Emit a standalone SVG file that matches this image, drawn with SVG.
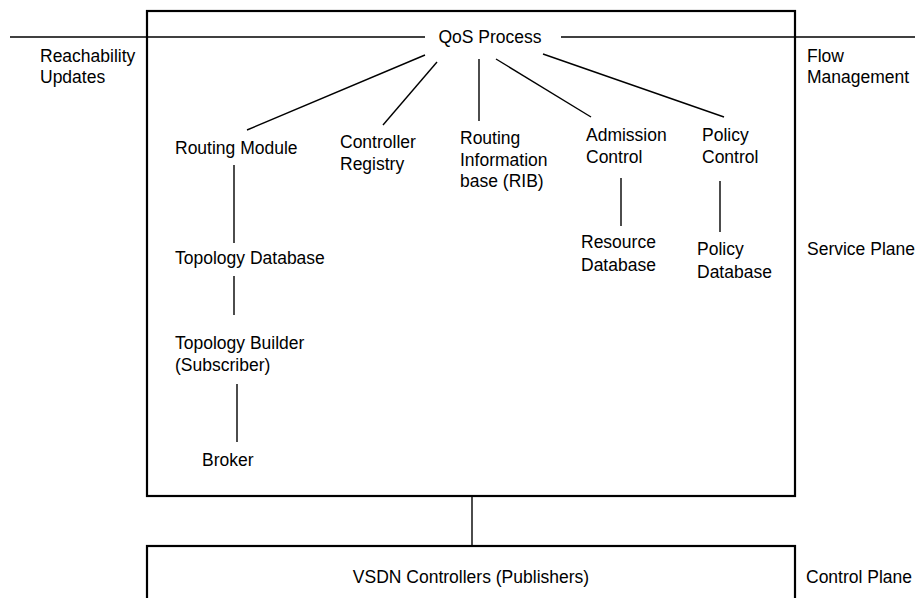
<svg xmlns="http://www.w3.org/2000/svg" width="915" height="598" viewBox="0 0 915 598">
<style>
text{font-family:"Liberation Sans",Arial,sans-serif;font-size:17.5px;fill:#000}
.box{fill:none;stroke:#000;stroke-width:2.2}
.c{stroke:#000;stroke-width:1.4;fill:none}
.m{text-anchor:middle}
</style>
<rect width="915" height="598" fill="#fff"/>
<g id="service-plane"><rect class="box" x="147" y="11" width="648" height="485"/></g>
<g id="control-plane-box"><rect class="box" x="147" y="546" width="648" height="80"/>
<text class="m" x="471" y="583">VSDN Controllers (Publishers)</text></g>
<g id="connectors">
<line class="c" x1="10" y1="37" x2="425" y2="37"/>
<line class="c" x1="561" y1="37" x2="915" y2="37"/>
<line class="c" x1="425" y1="55" x2="247" y2="130"/>
<line class="c" x1="437" y1="62" x2="383" y2="125"/>
<line class="c" x1="479" y1="59" x2="479" y2="121"/>
<line class="c" x1="496" y1="59" x2="591" y2="117"/>
<line class="c" x1="543" y1="54" x2="724" y2="117"/>
<line class="c" x1="234" y1="165" x2="234" y2="243"/>
<line class="c" x1="234" y1="276" x2="234" y2="315"/>
<line class="c" x1="237" y1="384" x2="237" y2="442"/>
<line class="c" x1="621" y1="178" x2="621" y2="226"/>
<line class="c" x1="720" y1="181" x2="720" y2="232"/>
<line class="c" x1="472" y1="496" x2="472" y2="546"/>
</g>
<g id="qos"><text class="m" x="490" y="43">QoS Process</text></g>
<g id="reachability"><text x="40" y="62">Reachability</text><text x="40" y="83">Updates</text></g>
<g id="flow"><text x="807" y="62">Flow</text><text x="807" y="83">Management</text></g>
<g id="routing-module"><text x="175" y="154">Routing Module</text></g>
<g id="controller-registry"><text x="340" y="148">Controller</text><text x="340" y="170">Registry</text></g>
<g id="rib"><text x="460" y="144">Routing</text><text x="460" y="166">Information</text><text x="460" y="187">base (RIB)</text></g>
<g id="admission"><text x="586" y="141">Admission</text><text x="586" y="163">Control</text></g>
<g id="policy-control"><text x="702" y="141">Policy</text><text x="702" y="163">Control</text></g>
<g id="resource-db"><text x="581" y="248">Resource</text><text x="581" y="271">Database</text></g>
<g id="policy-db"><text x="697" y="255">Policy</text><text x="697" y="278">Database</text></g>
<g id="service-label"><text x="807" y="255">Service Plane</text></g>
<g id="topology-db"><text x="175" y="264">Topology Database</text></g>
<g id="topology-builder"><text x="175" y="349">Topology Builder</text><text x="175" y="371">(Subscriber)</text></g>
<g id="broker"><text x="202" y="466">Broker</text></g>
<g id="control-label"><text x="806" y="583">Control Plane</text></g>
</svg>
